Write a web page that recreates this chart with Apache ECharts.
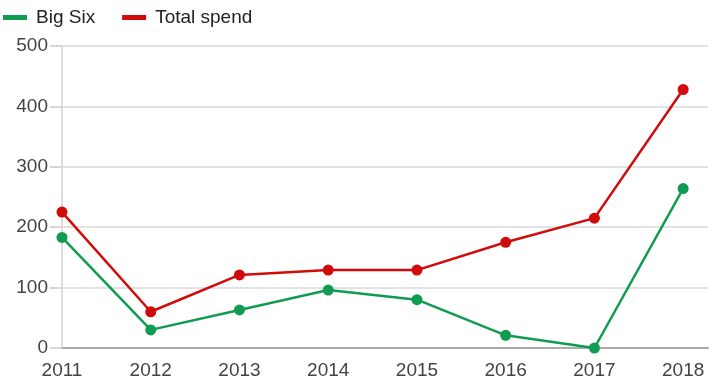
<!DOCTYPE html>
<html>
<head>
<meta charset="utf-8">
<script src="https://cdn.jsdelivr.net/npm/echarts@6/dist/echarts.min.js"></script>
<style>html,body{margin:0;padding:0;background:#fff}#c{width:716px;height:392px}</style>
</head>
<body>
<div id="c"></div>
<script>
var years = [2011, 2012, 2013, 2014, 2015, 2016, 2017, 2018];
var bigSix = [183, 30, 63, 96, 80, 21, 0, 264];
var totalSpend = [225, 60, 121, 129, 129, 175, 215, 428];
var yTicks = [0, 100, 200, 300, 400, 500];

function pairs(vals) { return years.map(function (y, i) { return [y, vals[i]]; }); }

var chart = echarts.init(document.getElementById('c'), null, { renderer: 'canvas' });
var font = 'Arial, "Liberation Sans", sans-serif';
chart.setOption({
  animation: false,
  textStyle: { fontFamily: font },
  legend: {
    left: -2, top: 3,
    icon: 'rect', itemWidth: 24, itemHeight: 5, itemGap: 27,
    textStyle: { fontSize: 19, color: '#222', fontFamily: font, padding: [0, 0, 0, 4] },
    data: ['Big Six', 'Total spend']
  },
  grid: { left: 62, right: 8, top: 46, bottom: 44, containLabel: false },
  xAxis: {
    type: 'value', min: years[0], max: 2018.28, interval: 1,
    axisLine: { lineStyle: { color: '#aaaaaa', width: 2 } },
    axisTick: { show: false },
    splitLine: { show: false },
    axisLabel: {
      fontSize: 19, color: '#444', margin: 13, fontFamily: font,
      showMaxLabel: false,
      formatter: function (v) { return Number.isInteger(v) ? String(v) : ''; }
    }
  },
  yAxis: {
    type: 'value', min: yTicks[0], max: yTicks[yTicks.length - 1], interval: 100,
    axisLine: { show: true, lineStyle: { color: '#dddddd', width: 2 } },
    axisTick: { show: true, length: 12, lineStyle: { color: '#d6d6d6', width: 2 } },
    splitLine: { lineStyle: { color: '#e2e2e2', width: 2 } },
    axisLabel: { fontSize: 19, color: '#444', margin: 14, fontFamily: font }
  },
  series: [
    {
      name: 'Big Six', type: 'line', data: pairs(bigSix),
      color: '#109c50',
      symbol: 'circle', symbolSize: 11,
      lineStyle: { width: 2.5 }, z: 3
    },
    {
      name: 'Total spend', type: 'line', data: pairs(totalSpend),
      color: '#d10a0a',
      symbol: 'circle', symbolSize: 11,
      lineStyle: { width: 2.5 }, z: 2
    }
  ]
});
</script>
</body>
</html>
